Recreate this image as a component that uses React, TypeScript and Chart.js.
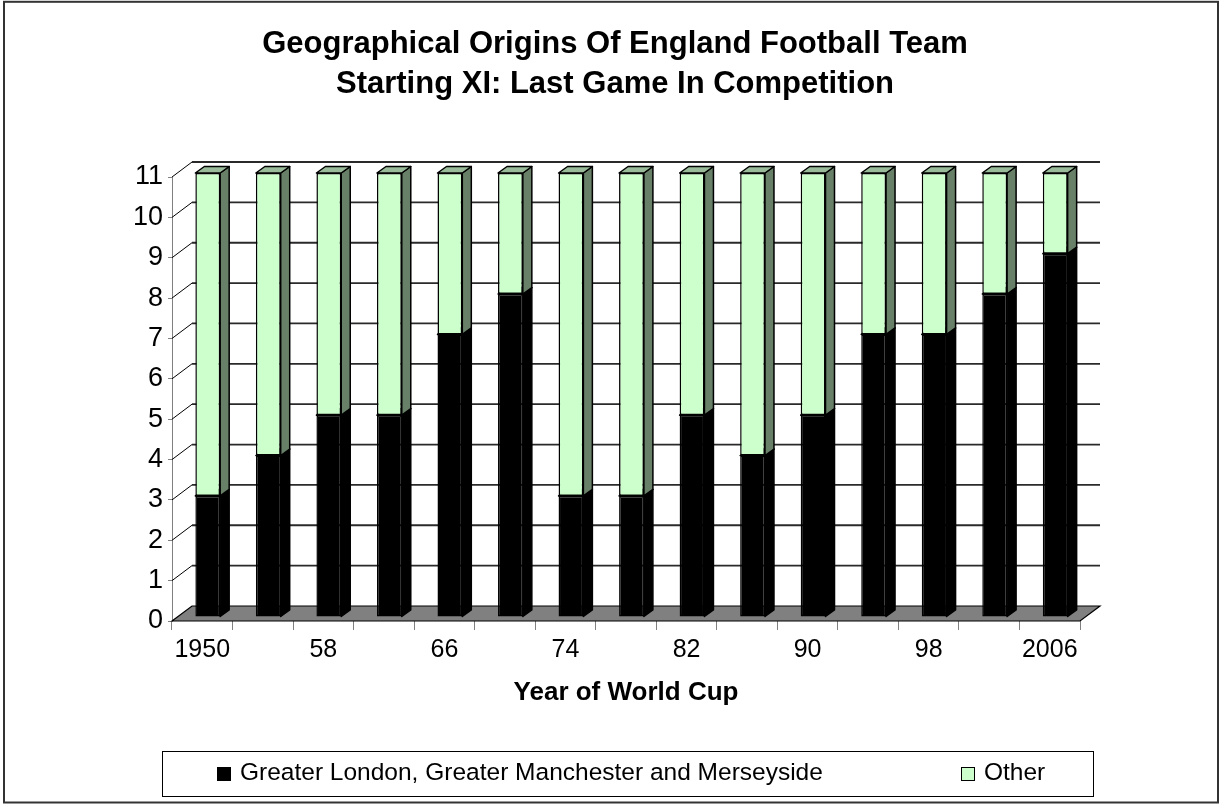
import { useEffect, useRef } from 'react';
import { Chart, registerables } from 'chart.js';

Chart.register(...registerables);

// World Cup years (labels shown on every other category)
const years = ['1950', '54', '58', '62', '66', '70', '74', '78', '82', '86', '90', '94', '98', '02', '2006'];
// Players from Greater London, Greater Manchester and Merseyside in the starting XI
const londonManchesterMerseyside = [3, 4, 5, 5, 7, 8, 3, 3, 5, 4, 5, 7, 7, 8, 9];
// Players from everywhere else
const otherRegions = [8, 7, 6, 6, 4, 3, 8, 8, 6, 7, 6, 4, 4, 3, 2];
const yMax = 11;

const titleLines = ['Geographical Origins Of England Football Team', 'Starting XI: Last Game In Competition'];
const xAxisTitle = 'Year of World Cup';
const seriesNames = ['Greater London, Greater Manchester and Merseyside', 'Other'];

const FONT = "'Liberation Sans', Arial, Helvetica, sans-serif";

// face colours per series: front, side, top
const seriesColors = [
  { front: '#000000', side: '#000000', top: '#1a1a1a' },
  { front: '#CCFFCC', side: '#688068', top: '#99BB99' },
];

// 3D geometry (pixels)
const WALL_DX = 20;
const WALL_DY = -15;
const BAR_FX = 5.5;
const BAR_FY = -4;
const BAR_DX = 9;
const BAR_DY = -6.5;

const scene3d = {
  id: 'scene3d',
  beforeDatasetsDraw(chart: any) {
    const { ctx, chartArea } = chart;
    const yScale = chart.scales.y;
    const { left, right } = chartArea;
    ctx.save();

    // back wall gridlines and side-wall connectors
    for (let v = 1; v <= yMax; v++) {
      const py = yScale.getPixelForValue(v);
      ctx.beginPath();
      ctx.strokeStyle = '#2a2a2a';
      ctx.lineWidth = 1.8;
      ctx.moveTo(left + WALL_DX, py + WALL_DY);
      ctx.lineTo(right + WALL_DX, py + WALL_DY);
      ctx.stroke();
      ctx.beginPath();
      ctx.strokeStyle = '#000000';
      ctx.lineWidth = 1;
      ctx.moveTo(left, py);
      ctx.lineTo(left + WALL_DX, py + WALL_DY);
      ctx.stroke();
    }

    // floor
    const p0 = yScale.getPixelForValue(0);
    ctx.beginPath();
    ctx.moveTo(left, p0);
    ctx.lineTo(left + WALL_DX, p0 + WALL_DY);
    ctx.lineTo(right + WALL_DX, p0 + WALL_DY);
    ctx.lineTo(right, p0);
    ctx.closePath();
    ctx.fillStyle = '#808080';
    ctx.fill();
    ctx.strokeStyle = '#000000';
    ctx.lineWidth = 1.2;
    ctx.stroke();

    // side and top faces of every bar segment
    chart.data.datasets.forEach((ds: any, di: number) => {
      const meta = chart.getDatasetMeta(di);
      const colors = seriesColors[di];
      meta.data.forEach((el: any) => {
        const { x, y, base, width } = el.getProps(['x', 'y', 'base', 'width'], true);
        if (Math.abs(base - y) < 0.5) return;
        const l = x - width / 2 + BAR_FX;
        const r = x + width / 2 + BAR_FX;
        const t = y + BAR_FY;
        const b = base + BAR_FY;
        ctx.lineWidth = 1.5;
        ctx.strokeStyle = '#000000';
        ctx.lineJoin = 'round';

        ctx.beginPath();
        ctx.moveTo(r, t);
        ctx.lineTo(r + BAR_DX, t + BAR_DY);
        ctx.lineTo(r + BAR_DX, b + BAR_DY);
        ctx.lineTo(r, b);
        ctx.closePath();
        ctx.fillStyle = colors.side;
        ctx.fill();
        ctx.stroke();

        ctx.beginPath();
        ctx.moveTo(l, t);
        ctx.lineTo(l + BAR_DX, t + BAR_DY);
        ctx.lineTo(r + BAR_DX, t + BAR_DY);
        ctx.lineTo(r, t);
        ctx.closePath();
        ctx.fillStyle = colors.top;
        ctx.fill();
        ctx.stroke();
      });
    });
    ctx.restore();

    // front faces drawn by Chart.js, shifted into the depth of the scene
    ctx.save();
    ctx.translate(BAR_FX, BAR_FY);
  },
  afterDatasetsDraw(chart: any) {
    chart.ctx.restore();
  },
};

const boxedLegend = {
  id: 'boxedLegend',
  afterDraw(chart: any) {
    const { ctx } = chart;
    ctx.save();
    // legend frame
    ctx.strokeStyle = '#000000';
    ctx.lineWidth = 1;
    ctx.strokeRect(162.5, 751.5, 931, 45);

    const itemX = [217, 961];
    const cy = 774;
    ctx.font = `24.5px ${FONT}`;
    ctx.textBaseline = 'middle';
    ctx.textAlign = 'left';
    chart.data.datasets.forEach((ds: any, i: number) => {
      const x0 = itemX[i];
      ctx.fillStyle = ds.backgroundColor;
      ctx.fillRect(x0, cy - 7, 14, 14);
      ctx.strokeStyle = '#000000';
      ctx.strokeRect(x0 + 0.5, cy - 6.5, 13, 13);
      ctx.fillStyle = '#000000';
      ctx.fillText(ds.label, x0 + 23, cy - 1);
    });

    // outer chart frame
    ctx.strokeStyle = '#333333';
    ctx.lineWidth = 2;
    ctx.strokeRect(4, 1.8, 1214, 800.7);
    ctx.restore();
  },
};

export default function App() {
  const canvasRef = useRef<HTMLCanvasElement | null>(null);

  useEffect(() => {
    if (!canvasRef.current) return;
    const chart = new Chart(canvasRef.current, {
      type: 'bar',
      data: {
        labels: years,
        datasets: [
          {
            label: seriesNames[0],
            data: londonManchesterMerseyside,
            backgroundColor: seriesColors[0].front,
            borderColor: '#000000',
            borderWidth: 1.5,
            borderSkipped: false,
            clip: false,
          },
          {
            label: seriesNames[1],
            data: otherRegions,
            backgroundColor: seriesColors[1].front,
            borderColor: '#000000',
            borderWidth: 1.5,
            borderSkipped: false,
            clip: false,
          },
        ],
      },
      options: {
        responsive: false,
        animation: false,
        devicePixelRatio: 1,
        layout: { padding: { left: 10, right: 0, top: 0, bottom: 84 } },
        datasets: {
          bar: { categoryPercentage: 1, barPercentage: 0.41 },
        },
        plugins: {
          legend: { display: false },
          tooltip: { enabled: false },
          title: {
            display: true,
            text: titleLines,
            color: '#000000',
            font: { family: FONT, size: 31, weight: 'bold', lineHeight: '40px' },
            padding: { top: 24, bottom: 73 },
          },
        },
        scales: {
          x: {
            stacked: true,
            offset: true,
            grid: {
              display: true,
              drawOnChartArea: false,
              drawTicks: true,
              tickLength: 9,
              offset: true,
              color: '#808080',
            },
            border: { display: false },
            ticks: {
              autoSkip: false,
              maxRotation: 0,
              padding: 5,
              color: '#000000',
              font: { family: FONT, size: 25 },
              callback: (_v: any, i: number) => (i % 2 === 0 ? years[i] : ''),
            },
            title: {
              display: true,
              text: xAxisTitle,
              color: '#000000',
              font: { family: FONT, size: 26, weight: 'bold' },
              padding: { top: 0, bottom: 13 },
            },
            afterFit: (scale: any) => {
              scale.height = 100;
            },
          },
          y: {
            stacked: true,
            min: 0,
            max: yMax,
            grid: {
              display: true,
              drawOnChartArea: false,
              drawTicks: true,
              tickLength: 4,
              color: '#808080',
            },
            border: { display: true, color: '#808080', width: 1 },
            ticks: {
              stepSize: 1,
              padding: 5,
              color: '#000000',
              font: { family: FONT, size: 27 },
            },
            afterFit: (scale: any) => {
              scale.width = 162;
            },
          },
          // empty margin on the right of the plot (room for the 3D depth)
          yMargin: {
            type: 'linear',
            position: 'right',
            display: true,
            grid: { display: false, drawTicks: false },
            border: { display: false },
            ticks: { display: false },
            afterFit: (scale: any) => {
              scale.width = 140;
            },
          },
        },
      },
      plugins: [scene3d, boxedLegend],
    } as any);
    return () => chart.destroy();
  }, []);

  return (
    <div style={{ position: 'absolute', left: 0, top: 0, width: 1220, height: 805, background: '#ffffff' }}>
      <canvas ref={canvasRef} width={1220} height={805} style={{ display: 'block' }} />
    </div>
  );
}
